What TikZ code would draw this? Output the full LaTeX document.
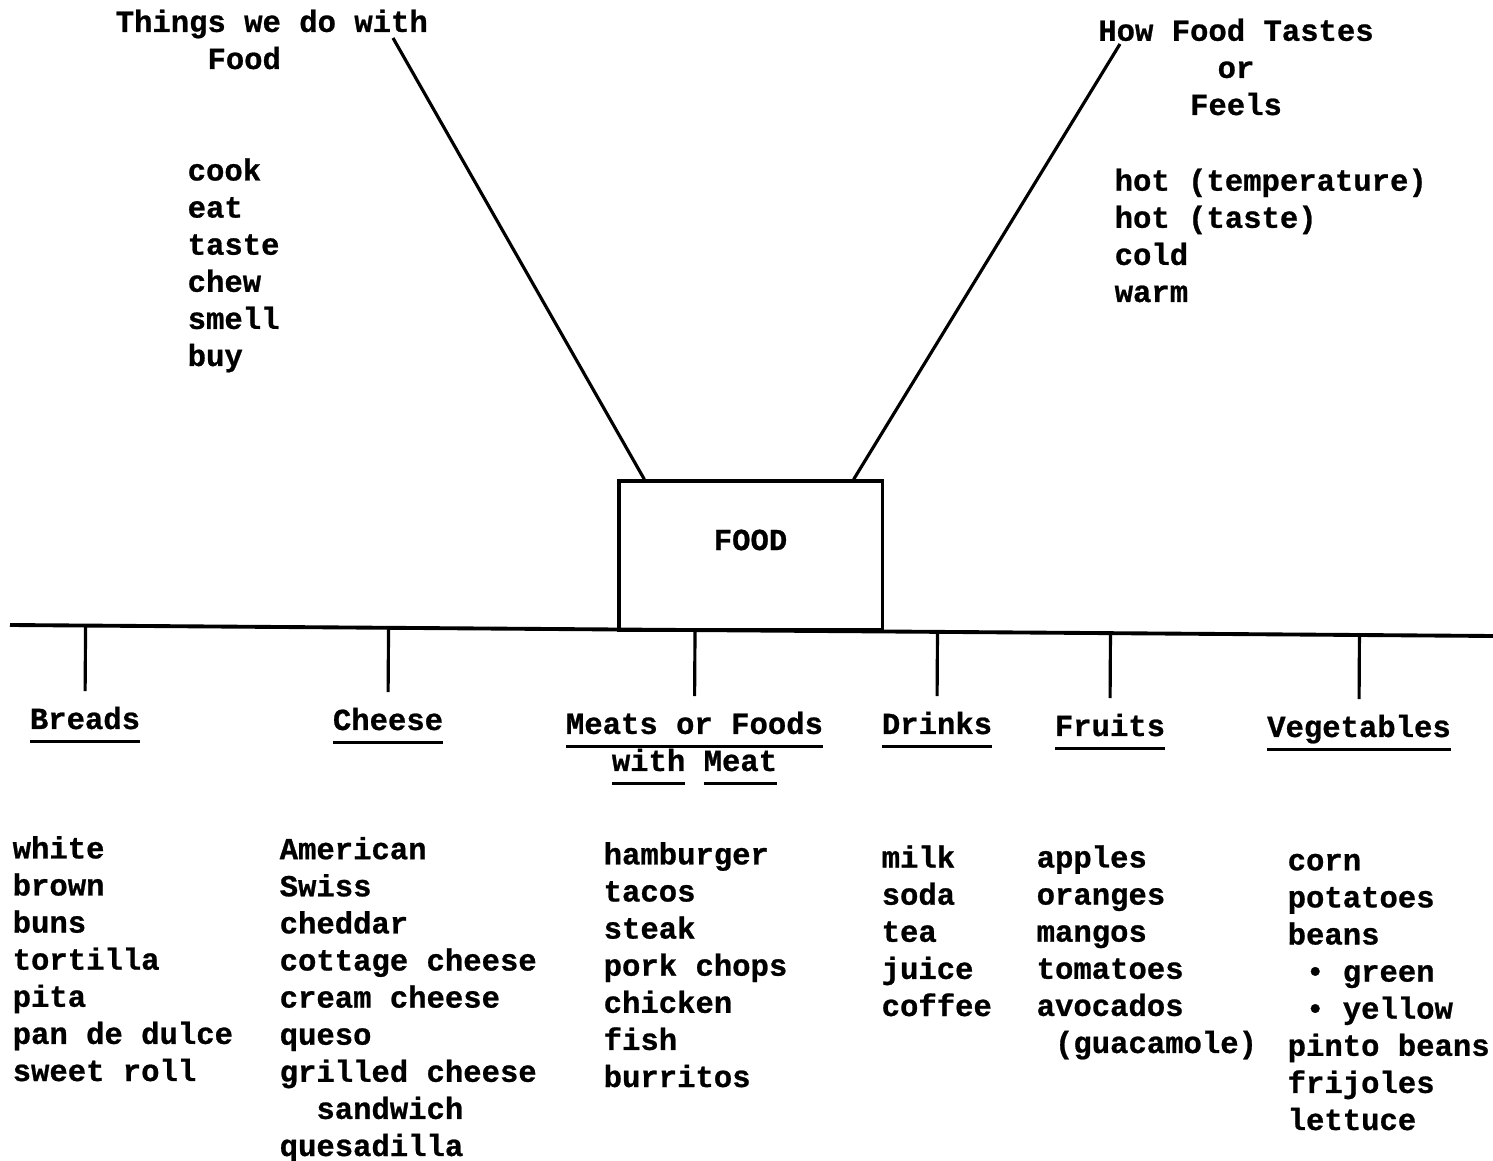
\documentclass[tikz,border=0pt]{standalone}
\usepackage{fontspec}
\newfontfamily\typer{Liberation Mono}[BoldFeatures={FakeBold=0.8}]
\usepackage{tikz}
\usetikzlibrary{positioning,calc}

\newcommand\ulword[1]{\leavevmode\vtop{\hbox{#1\vphantom{g}}\kern1.2pt\hrule height 0.9pt}}

\begin{document}
\begin{tikzpicture}
  [
    x=0.01cm, y=-0.01cm,
    Words/.style={font=\typer\bfseries\fontsize{8.7}{10.55}\selectfont, inner sep=0pt, align=left, anchor=base west},
    Head/.style={Words, align=center, anchor=base},
    Hub/.style={draw, line width=0.9pt, minimum width=2.63cm, minimum height=1.49cm, inner sep=0pt},
    Line/.style={draw, line width=0.9pt}
  ]
  \useasboundingbox (0,0) rectangle (1493,1161);

  % Nodes (multi-line texts sit on the baseline of their last line)
  \node[Hub] (food) at (750.5, 555.5) {};
  \node[Words, anchor=center] (foodname) at ([yshift=0.155cm]food.center) {FOOD};

  \node[Words] (things) at (115, 69) {Things we do with\\\phantom{xxxxx}Food};
  \node[Words] (actions) at (187, 366) {cook\\eat\\taste\\chew\\smell\\buy};
  \node[Head] (tastes) at (1236, 115) {How Food Tastes\\or\\Feels};
  \node[Words] (feels) at (1114, 302) {hot (temperature)\\hot (taste)\\cold\\warm};

  \node[Head] (breads) at (85, 729) {\ulword{Breads}};
  \node[Head] (cheese) at (388, 730) {\ulword{Cheese}};
  \node[Head] (meats) at (694.5, 771) {\ulword{Meats or Foods}\\\ulword{with} \ulword{Meat}};
  \node[Head] (drinks) at (937, 734) {\ulword{Drinks}};
  \node[Head] (fruits) at (1110, 736) {\ulword{Fruits}};
  \node[Head] (vegetables) at (1359, 737) {\ulword{Vegetables}};

  \node[Words] (breadlist) at (12, 1081) {white\\brown\\buns\\tortilla\\pita\\pan de dulce\\sweet roll};
  \node[Words] (cheeselist) at (279, 1156) {American\\Swiss\\cheddar\\cottage cheese\\cream cheese\\queso\\grilled cheese\\\phantom{xx}sandwich\\quesadilla};
  \node[Words] (meatlist) at (603, 1087) {hamburger\\tacos\\steak\\pork chops\\chicken\\fish\\burritos};
  \node[Words] (drinklist) at (881, 1016) {milk\\soda\\tea\\juice\\coffee};
  \node[Words] (fruitlist) at (1036, 1053) {apples\\oranges\\mangos\\tomatoes\\avocados\\\phantom{x}(guacamole)};
  \node[Words] (veglist) at (1287, 1130) {corn\\potatoes\\beans\\\phantom{x}\textbullet{} green\\\phantom{x}\textbullet{} yellow\\pinto beans\\frijoles\\lettuce};

  \coordinate (thingsend) at (393, 38);
  \coordinate (tastesend) at (1120, 44);
  \coordinate (spineL) at (10, 625);
  \coordinate (spineR) at (1493, 636);

  % Lines
  \path [Line] (thingsend) -- ([xshift=0.27cm]food.north west);
  \path [Line] (tastesend) -- ([xshift=-0.3cm]food.north east);
  \path [Line, line width=1.1pt] (spineL) -- (spineR);
  \path [Line, shorten >=0.15cm] ($(spineL)!(breads.north)!(spineR)$) -- (breads.north);
  \path [Line, shorten >=0.15cm] ($(spineL)!(cheese.north)!(spineR)$) -- (cheese.north);
  \path [Line, shorten >=0.15cm] ($(spineL)!(meats.north)!(spineR)$) -- (meats.north);
  \path [Line, shorten >=0.15cm] ($(spineL)!(drinks.north)!(spineR)$) -- (drinks.north);
  \path [Line, shorten >=0.15cm] ($(spineL)!(fruits.north)!(spineR)$) -- (fruits.north);
  \path [Line, shorten >=0.15cm] ($(spineL)!(vegetables.north)!(spineR)$) -- (vegetables.north);

\end{tikzpicture}
\end{document}
